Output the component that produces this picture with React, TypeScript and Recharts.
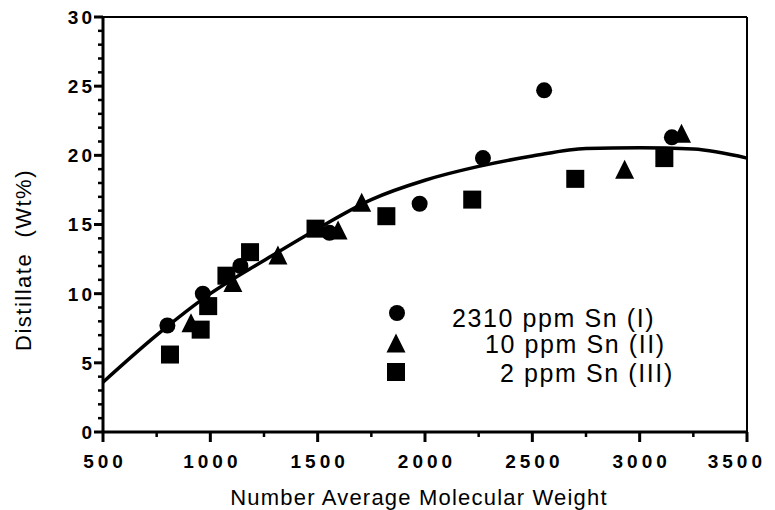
import React from 'react';
import { ComposedChart, XAxis, YAxis, Scatter, Line, ReferenceLine, Legend } from 'recharts';

// 2310 ppm Sn (I)
const circleX = [800, 965, 1140, 1555, 1975, 2270, 2555, 3150];
const circleY = [7.7, 10.0, 12.0, 14.4, 16.5, 19.8, 24.7, 21.3];
// 10 ppm Sn (II)
const triangleX = [910, 1105, 1315, 1595, 1705, 2930, 3195];
const triangleY = [7.9, 10.8, 12.8, 14.6, 16.6, 19.0, 21.6];
// 2 ppm Sn (III)
const squareX = [812, 955, 990, 1075, 1185, 1490, 1820, 2220, 2700, 3115];
const squareY = [5.6, 7.4, 9.1, 11.3, 13.0, 14.7, 15.6, 16.8, 18.3, 19.8];
// fitted curve
const fitX = [500, 750, 1000, 1250, 1500, 1750, 2000, 2250, 2500, 2750, 3000, 3250, 3500];
const fitY = [3.6, 7.0, 10.0, 12.4, 14.7, 16.8, 18.2, 19.2, 19.95, 20.5, 20.55, 20.45, 19.8];

const xTicks = [500, 750, 1000, 1250, 1500, 1750, 2000, 2250, 2500, 2750, 3000, 3250, 3500];
const xLabels = [500, 1000, 1500, 2000, 2500, 3000, 3500];
const yTicks = [0, 1, 2, 3, 4, 5, 6, 7, 8, 9, 10, 11, 12, 13, 14, 15, 16, 17, 18, 19, 20,
  21, 22, 23, 24, 25, 26, 27, 28, 29, 30];
const yLabels = [0, 5, 10, 15, 20, 25, 30];

const seriesNames = ['2310 ppm Sn (I)', '10 ppm Sn (II)', '2 ppm Sn (III)'];

const toPoints = (xs: number[], ys: number[]) => xs.map((x, i) => ({ x, y: ys[i] }));
const circles = toPoints(circleX, circleY);
const triangles = toPoints(triangleX, triangleY);
const squares = toPoints(squareX, squareY);
const fit = toPoints(fitX, fitY);

const FONT = '"Liberation Sans", Arial, Helvetica, sans-serif';

const CircleMark = ({ cx, cy }: any) => <circle cx={cx} cy={cy} r={8} fill="#000" />;
const TriangleMark = ({ cx, cy }: any) => (
  <polygon points={`${cx},${cy - 9.5} ${cx + 9.5},${cy + 9.5} ${cx - 9.5},${cy + 9.5}`} fill="#000" />
);
const SquareMark = ({ cx, cy }: any) => <rect x={cx - 9} y={cy - 9} width={18} height={18} fill="#000" />;

function XTick({ x, y, payload }: any) {
  const major = xLabels.includes(payload.value);
  const last = payload.value === xLabels[xLabels.length - 1];
  return (
    <g>
      <line x1={x} x2={x} y1={y} y2={y + (major ? 10 : 5)} stroke="#000" strokeWidth={major ? 3 : 2.5} />
      {major && (
        <text x={last ? x + 19 : x + 2} y={y + 36} textAnchor={last ? 'end' : 'middle'} fontFamily={FONT}
          fontWeight="bold" fontSize={19} letterSpacing={4} fill="#000">{payload.value}</text>
      )}
    </g>
  );
}

function YTick({ x, y, payload }: any) {
  const major = yLabels.includes(payload.value);
  return (
    <g>
      <line x1={x} x2={x - (major ? 9 : 5)} y1={y} y2={y} stroke="#000" strokeWidth={major ? 3 : 2.5} />
      {major && (
        <text x={x - 8} y={y} dy="0.36em" textAnchor="end" fontFamily={FONT} fontWeight="bold"
          fontSize={19} letterSpacing={3} fill="#000">{payload.value}</text>
      )}
    </g>
  );
}

const XLabel = () => (
  <text x={411} y={497} textAnchor="middle" fontFamily={FONT} fontSize={22} letterSpacing={1.2} fill="#000">
    Number Average Molecular Weight
  </text>
);

const YLabel = () => (
  <text transform="translate(15,252) rotate(-90)" textAnchor="middle" dy="0.36em" fontFamily={FONT}
    fontSize={22} letterSpacing={1.5} fill="#000" xmlSpace="preserve">
    {'Distillate  (Wt%)'}
  </text>
);

function LegendBox() {
  const textProps = { fontFamily: FONT, fontSize: 25, letterSpacing: 1.6, fill: '#000' };
  return (
    <svg width={320} height={95}>
      <circle cx={17} cy={18} r={8} fill="#000" />
      <polygon points="16,38.5 25.5,57.5 6.5,57.5" fill="#000" />
      <rect x={7} y={68} width={18} height={18} fill="#000" />
      <text x={72} y={31.5} {...textProps}>{seriesNames[0]}</text>
      <text x={105} y={58} {...textProps}>{seriesNames[1]}</text>
      <text x={120} y={86.5} {...textProps}>{seriesNames[2]}</text>
    </svg>
  );
}

export default function App() {
  return (
    <ComposedChart width={759} height={502} margin={{ top: 9, right: 20, bottom: 2, left: 0 }}>
      <XAxis
        type="number"
        dataKey="x"
        domain={[500, 3500]}
        ticks={xTicks}
        interval={0}
        height={76}
        tickSize={0}
        tickMargin={0}
        tickLine={false}
        axisLine={{ stroke: '#000', strokeWidth: 3 }}
        tick={<XTick />}
        label={<XLabel />}
      />
      <YAxis
        type="number"
        dataKey="y"
        domain={[0, 30]}
        ticks={yTicks}
        interval={0}
        width={95}
        tickSize={0}
        tickMargin={0}
        tickLine={false}
        axisLine={{ stroke: '#000', strokeWidth: 3 }}
        tick={<YTick />}
        label={<YLabel />}
      />
      <ReferenceLine y={30} stroke="#000" strokeWidth={2} />
      <ReferenceLine x={3500} stroke="#000" strokeWidth={2} />
      <Line
        data={fit}
        dataKey="y"
        type="monotone"
        dot={false}
        stroke="#000"
        strokeWidth={3.5}
        legendType="none"
        isAnimationActive={false}
      />
      <Scatter name={seriesNames[0]} data={circles} shape={<CircleMark />} fill="#000" isAnimationActive={false} />
      <Scatter name={seriesNames[1]} data={triangles} shape={<TriangleMark />} fill="#000" isAnimationActive={false} />
      <Scatter name={seriesNames[2]} data={squares} shape={<SquareMark />} fill="#000" isAnimationActive={false} />
      <Legend
        layout="horizontal"
        verticalAlign="middle"
        align="center"
        content={() => <LegendBox />}
        wrapperStyle={{ position: 'absolute', left: 372, top: 287, width: 320, height: 95 }}
      />
    </ComposedChart>
  );
}
